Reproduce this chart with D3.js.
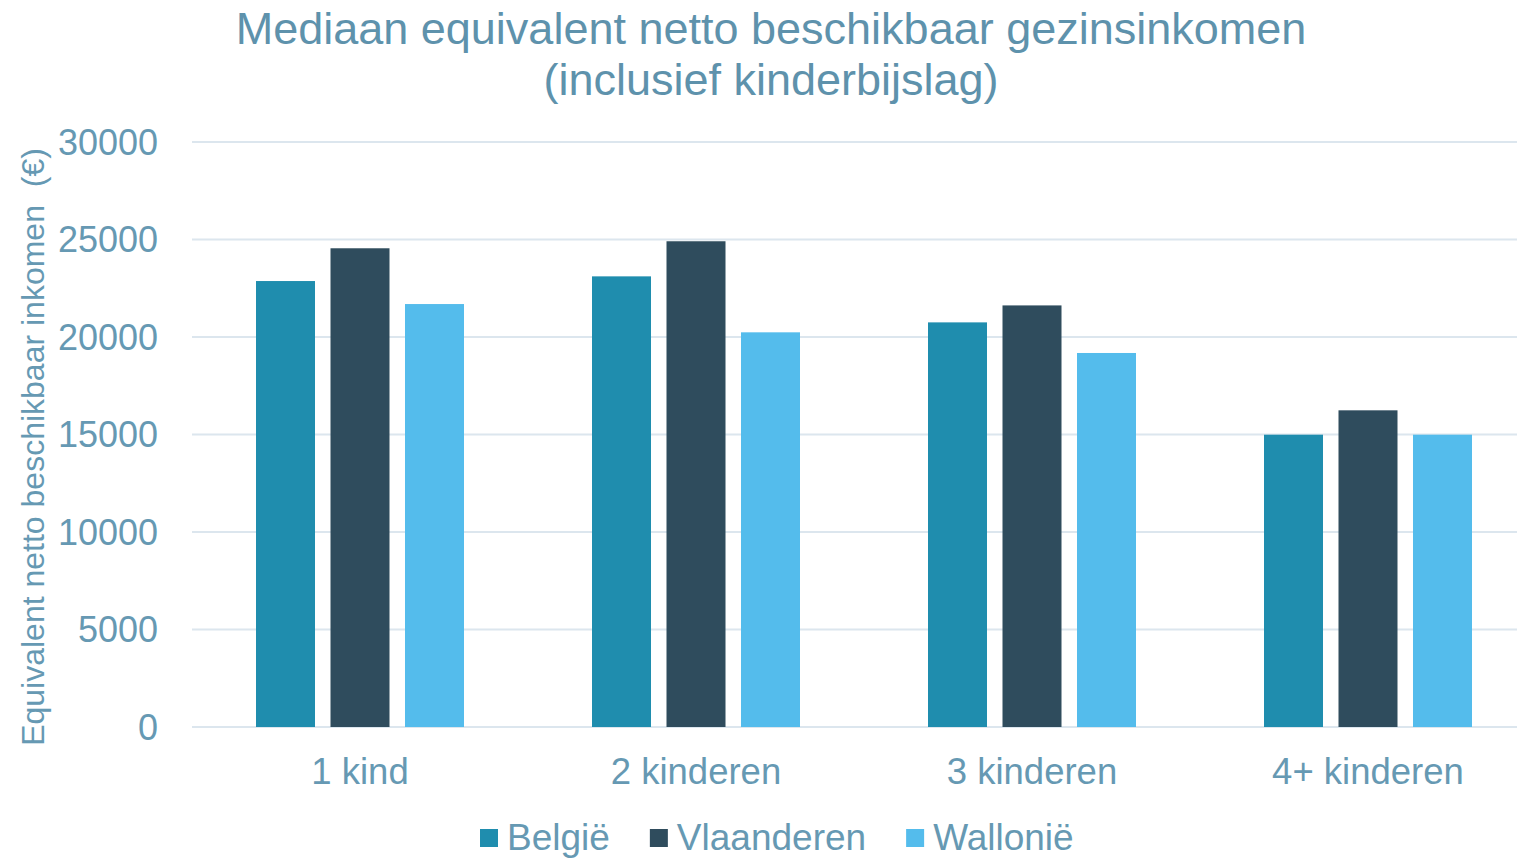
<!DOCTYPE html>
<html lang="nl">
<head>
<meta charset="utf-8">
<title>Mediaan equivalent netto beschikbaar gezinsinkomen</title>
<script src="https://cdnjs.cloudflare.com/ajax/libs/d3/7.8.5/d3.min.js"></script>
<style>
  body { margin: 0; background: #fff; }
  text { font-family: "Liberation Sans", Arial, sans-serif; }
</style>
</head>
<body>
<svg id="chart" width="1517" height="858"></svg>
<script>
// data
var categories = ["1 kind", "2 kinderen", "3 kinderen", "4+ kinderen"];
var series = ["België", "Vlaanderen", "Wallonië"];
var belgie = [22870, 23110, 20750, 14990];
var vlaanderen = [24550, 24910, 21620, 16240];
var wallonie = [21690, 20240, 19180, 14990];
var yTicks = [0, 5000, 10000, 15000, 20000, 25000, 30000];

var colors = ["#1f8dae", "#2f4c5d", "#54bcec"];
var textColor = "#6699b3";

var values = [belgie, vlaanderen, wallonie];

var svg = d3.select("#chart");

// plot area
var pLeft = 192, pRight = 1517, pTop = 142, pBottom = 727;

var x = d3.scaleBand().domain(categories).range([pLeft, pLeft + 336 * 4]).padding(0);
var xs = d3.scaleBand().domain(series).range([64, 272]).paddingInner(0.208).paddingOuter(0);
var y = d3.scaleLinear().domain([0, 30000]).range([pBottom, pTop]);

// gridlines
svg.append("g").selectAll("line")
  .data(yTicks)
  .join("line")
  .attr("x1", pLeft).attr("x2", pRight)
  .attr("y1", function(d) { return y(d); })
  .attr("y2", function(d) { return y(d); })
  .attr("stroke", "#dce6ee")
  .attr("stroke-width", 2);

// y tick labels
svg.append("g").selectAll("text")
  .data(yTicks)
  .join("text")
  .attr("x", 158)
  .attr("y", function(d) { return y(d); })
  .attr("dy", "0.36em")
  .attr("text-anchor", "end")
  .attr("font-size", "36px")
  .attr("fill", textColor)
  .text(function(d) { return d; });

// bars
series.forEach(function(s, si) {
  svg.append("g").selectAll("rect")
    .data(categories)
    .join("rect")
    .attr("x", function(c) { return x(c) + xs(s); })
    .attr("width", xs.bandwidth())
    .attr("y", function(c, i) { return y(values[si][i]); })
    .attr("height", function(c, i) { return y(0) - y(values[si][i]); })
    .attr("fill", colors[si]);
});

// category labels
svg.append("g").selectAll("text")
  .data(categories)
  .join("text")
  .attr("x", function(c) { return x(c) + x.bandwidth() / 2; })
  .attr("y", 784)
  .attr("text-anchor", "middle")
  .attr("font-size", "36.5px")
  .attr("fill", textColor)
  .text(function(c) { return c; });

// axis title
svg.append("text")
  .attr("transform", "translate(44," + 447 + ") rotate(-90)")
  .attr("text-anchor", "middle")
  .attr("font-size", "32px")
  .attr("fill", textColor)
  .style("white-space", "pre")
  .text("Equivalent netto beschikbaar inkomen  (€)");

// title
var title = svg.append("text")
  .attr("text-anchor", "middle")
  .attr("font-size", "45px")
  .attr("fill", "#5e92ac");
title.append("tspan").attr("x", 771).attr("y", 44).text("Mediaan equivalent netto beschikbaar gezinsinkomen");
title.append("tspan").attr("x", 771).attr("y", 95).text("(inclusief kinderbijslag)");

// legend
var legend = svg.append("g");
var lx = 480;
series.forEach(function(s, si) {
  legend.append("rect")
    .attr("x", lx).attr("y", 829)
    .attr("width", 18).attr("height", 18)
    .attr("fill", colors[si]);
  var t = legend.append("text")
    .attr("x", lx + 27).attr("y", 850)
    .attr("font-size", "37px")
    .attr("fill", textColor)
    .text(s);
  lx += 27 + t.node().getComputedTextLength() + 40;
});
</script>
</body>
</html>
